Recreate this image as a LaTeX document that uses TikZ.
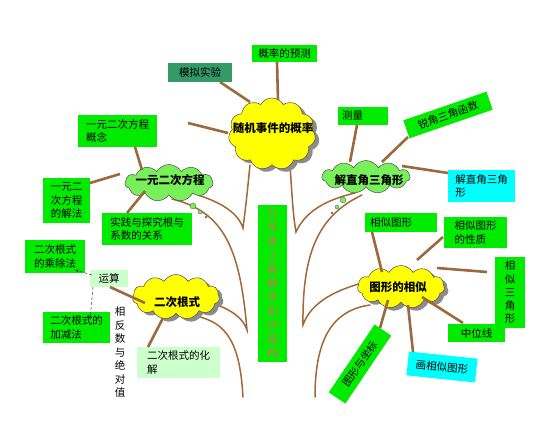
\documentclass[tikz,border=0pt]{standalone}
\usepackage{fontspec}
\newfontfamily\cjk{Noto Sans CJK SC}
\usetikzlibrary{shapes.symbols,shadows,calc,arrows.meta}
\pgfdeclarelayer{bg}
\pgfsetlayers{bg,main}
\definecolor{boxgreen}{RGB}{0,235,0}
\definecolor{paleg}{RGB}{204,255,204}
\definecolor{cyanbox}{RGB}{0,255,255}
\definecolor{darkteal}{RGB}{51,153,102}
\definecolor{treebrown}{RGB}{160,105,55}
\definecolor{connbrown}{RGB}{155,105,60}
\definecolor{cloudyellow}{RGB}{255,255,0}
\definecolor{cloudgreen}{RGB}{120,240,90}
\definecolor{labelred}{RGB}{205,120,85}
\begin{document}
\begin{tikzpicture}[x=1pt,y=-1pt,
  gbox/.style={fill=boxgreen, inner sep=0pt, align=left,
    font=\cjk\fontsize{10.5}{13.5}\selectfont},
  vbox/.style={fill=boxgreen, inner sep=0pt, align=center},
  cloudbase/.style={shape=cloud, cloud puffs=11, cloud puff arc=120,
    cloud ignores aspect, draw=black!70, line width=0.5pt, inner sep=0pt},
  ycloud/.style={cloudbase, fill=cloudyellow,
    drop shadow={shadow xshift=4pt, shadow yshift=-3pt, fill=black!45, opacity=1}},
  gcloud/.style={cloudbase, fill=cloudgreen},
  cloudtext/.style={font=\cjk\bfseries\fontsize{11.5}{13}\selectfont, inner sep=0pt},
  bubble/.style={circle, fill=cloudgreen, draw=black!60, line width=0.4pt, inner sep=0pt},
  tree/.style={draw=treebrown, line width=1.5pt, line cap=round},
  conn/.style={draw=connbrown, line width=2.6pt},
  thinarrow/.style={draw=black!75, line width=0.5pt, densely dashed, -{Stealth[length=4pt,width=3pt]}}
]
\useasboundingbox (0,0) rectangle (554,439);

% clouds
\node[ycloud, minimum width=87, minimum height=72] (sj) at (272,134) {};
\node[cloudtext] (sjt) at (273,128) {随机事件的概率};
\node[gcloud, minimum width=88, minimum height=37] (yy) at (169,183) {};
\node[cloudtext] (yyt) at (170,180) {一元二次方程};
\node[gcloud, minimum width=88, minimum height=33] (jz) at (366,177) {};
\node[cloudtext] (jzt) at (369,180) {解直角三角形};
\node[ycloud, minimum width=87, minimum height=45] (ec) at (176,297) {};
\node[cloudtext] (ect) at (177,302) {二次根式};
\node[ycloud, minimum width=87, minimum height=43] (tx) at (401,287) {};
\node[cloudtext] (txt) at (398,287) {图形的相似};

% thought bubbles
\node[bubble, minimum size=6] (yb1) at (193,206) {};
\node[bubble, minimum size=4] (yb2) at (200,212) {};
\node[bubble, minimum size=2] (yb3) at (206,217) {};
\node[bubble, minimum size=6] (jb1) at (343,200) {};
\node[bubble, minimum size=4] (jb2) at (337,207) {};
\node[bubble, minimum size=2] (jb3) at (332,213) {};

% tree branches
\begin{pgfonlayer}{bg}
\coordinate (lb) at (243,397);
\coordinate (rb) at (315,397);
\draw[tree] (lb) .. controls (240,345) and (228,322) .. (195,316);
\draw[tree] (212,303) .. controls (232,310) and (243,318) .. (247,330)
  .. controls (240,250) and (225,212) .. (172,199);
\draw[tree] (198,195) .. controls (222,203) and (238,213) .. (243,228)
  .. controls (246,205) and (248,185) .. (250,165);
\draw[tree] (290,165) .. controls (292,195) and (293,215) .. (296,232)
  .. controls (305,212) and (325,200) .. (355,193);
\draw[tree] (362,195) .. controls (320,215) and (302,250) .. (303,325)
  .. controls (310,305) and (330,292) .. (362,283);
\draw[tree] (370,305) .. controls (335,310) and (315,335) .. (rb);
\end{pgfonlayer}

% boxes
\node[gbox, fill=darkteal, minimum width=64, minimum height=19] (mnsy) at (200,72.5) {模拟实验};
\node[gbox, minimum width=65, minimum height=17] (glyc) at (284.5,53.5) {概率的预测};
\node[gbox, minimum width=50, minimum height=18, text width=42] (cl) at (363,116) {测量};
\node[gbox, minimum width=88, minimum height=19, rotate=19] (rjsj) at (448,115) {锐角三角函数};
\node[gbox, fill=cyanbox, minimum width=67, minimum height=32] (jzsj) at (481.5,186) {解直角三角\\形};
\node[gbox, minimum width=79, minimum height=32] (yyecgn) at (117.5,131) {一元二次方程\\概念};
\node[gbox, minimum width=47, minimum height=45] (yyejf) at (66.5,200.5) {一元二\\次方程\\的解法};
\node[gbox, minimum width=90, minimum height=32] (sjtj) at (147,229) {实践与探究根与\\系数的关系};
\node[gbox, minimum width=60, minimum height=33] (ccf) at (55,256.5) {二次根式\\的乘除法};
\node[gbox, fill=paleg, minimum width=38, minimum height=17] (ys) at (109,278.5) {运算};
\node[gbox, minimum width=67, minimum height=31] (jjf) at (76.5,327.5) {二次根式的\\加减法};
\node[gbox, fill=paleg, minimum width=83, minimum height=31] (hj) at (178.5,362.5) {二次根式的化\\解};
\node[inner sep=0pt, align=center, font=\cjk\fontsize{10.5}{13.5}\selectfont] (xfs) at (120,352.5)
  {相\\反\\数\\与\\绝\\对\\值};
\node[vbox, minimum width=29, minimum height=157, text=labelred,
  font=\cjk\fontsize{11}{14}\selectfont] (zs) at (272.5,283.5)
  {九\\年\\级\\上\\册\\数\\学\\知\\识\\结\\构};
\node[gbox, minimum width=72, minimum height=19, text width=62] (xstx) at (401,222.5) {相似图形};
\node[gbox, minimum width=63, minimum height=31] (xsxz) at (475.5,232.5) {相似图形\\的性质};
\node[vbox, minimum width=30, minimum height=71, font=\cjk\fontsize{10.5}{13.25}\selectfont] (xssj) at (510,292.5)
  {相\\似\\三\\角\\形};
\node[gbox, minimum width=57, minimum height=18] (zwx) at (476.5,333) {中位线};
\node[gbox, fill=cyanbox, minimum width=69, minimum height=24, rotate=-6] (hxs) at (442,367) {画相似图形};
\node[gbox, minimum width=82, minimum height=20, rotate=56] (txzb) at (360,364) {图形与坐标};

% connectors
\coordinate (dang) at (188,123);
\draw[conn] ([shift={(20,9.5)}]mnsy.center) -- ([shift={(-22,-32)}]sj.center);
\draw[conn] ([shift={(-7.5,8.5)}]glyc.center) -- ([shift={(6,-34)}]sj.center);
\draw[conn] (dang) -- ([shift={(-44,-1)}]sj.center);
\draw[conn] ([shift={(-6,9)}]cl.center) -- ([shift={(-16,-15)}]jz.center);
\draw[conn] ([shift={(-40,22)}]rjsj.center) -- ([shift={(16,-15)}]jz.center);
\draw[conn] ([shift={(-33.5,-13)}]jzsj.center) -- ([shift={(36,-11)}]jz.center);
\draw[conn] ([shift={(17.5,16)}]yyecgn.center) -- ([shift={(-27,-13)}]yy.center);
\draw[conn] ([shift={(23.5,-17.5)}]yyejf.center) -- ([shift={(-49,-9)}]yy.center);
\draw[conn] ([shift={(-20,-16)}]sjtj.center) -- ([shift={(-24,8)}]yy.center);
\draw[conn] ([shift={(1,8.5)}]ys.center) -- ([shift={(-31,6)}]ec.center);
\draw[conn] ([shift={(-30.5,-15.5)}]hj.center) -- ([shift={(-13,21)}]ec.center);
\draw[conn] ([shift={(-29,9.5)}]xstx.center) -- ([shift={(-19,-15)}]tx.center);
\draw[conn] ([shift={(-32.5,4.5)}]xsxz.center) -- ([shift={(16,-27)}]tx.center);
\draw[conn] ([shift={(-23,-20.5)}]xssj.center) -- ([shift={(36,-19)}]tx.center);
\draw[conn] ([shift={(-13.5,-10)}]zwx.center) -- ([shift={(21,10)}]tx.center);
\draw[conn] ([shift={(-29,-15)}]hxs.center) -- ([shift={(7,18)}]tx.center);
\draw[conn] ([shift={(20,-36)}]txzb.center) -- ([shift={(-13,13)}]tx.center);

\draw[thinarrow] ([shift={(-17,-3.5)}]ys.center) -- ([shift={(20,13.5)}]ccf.center);
\draw[thinarrow] ([shift={(-16,8.5)}]ys.center) -- ([shift={(13.5,-7.5)}]jjf.center);
\end{tikzpicture}
\end{document}
